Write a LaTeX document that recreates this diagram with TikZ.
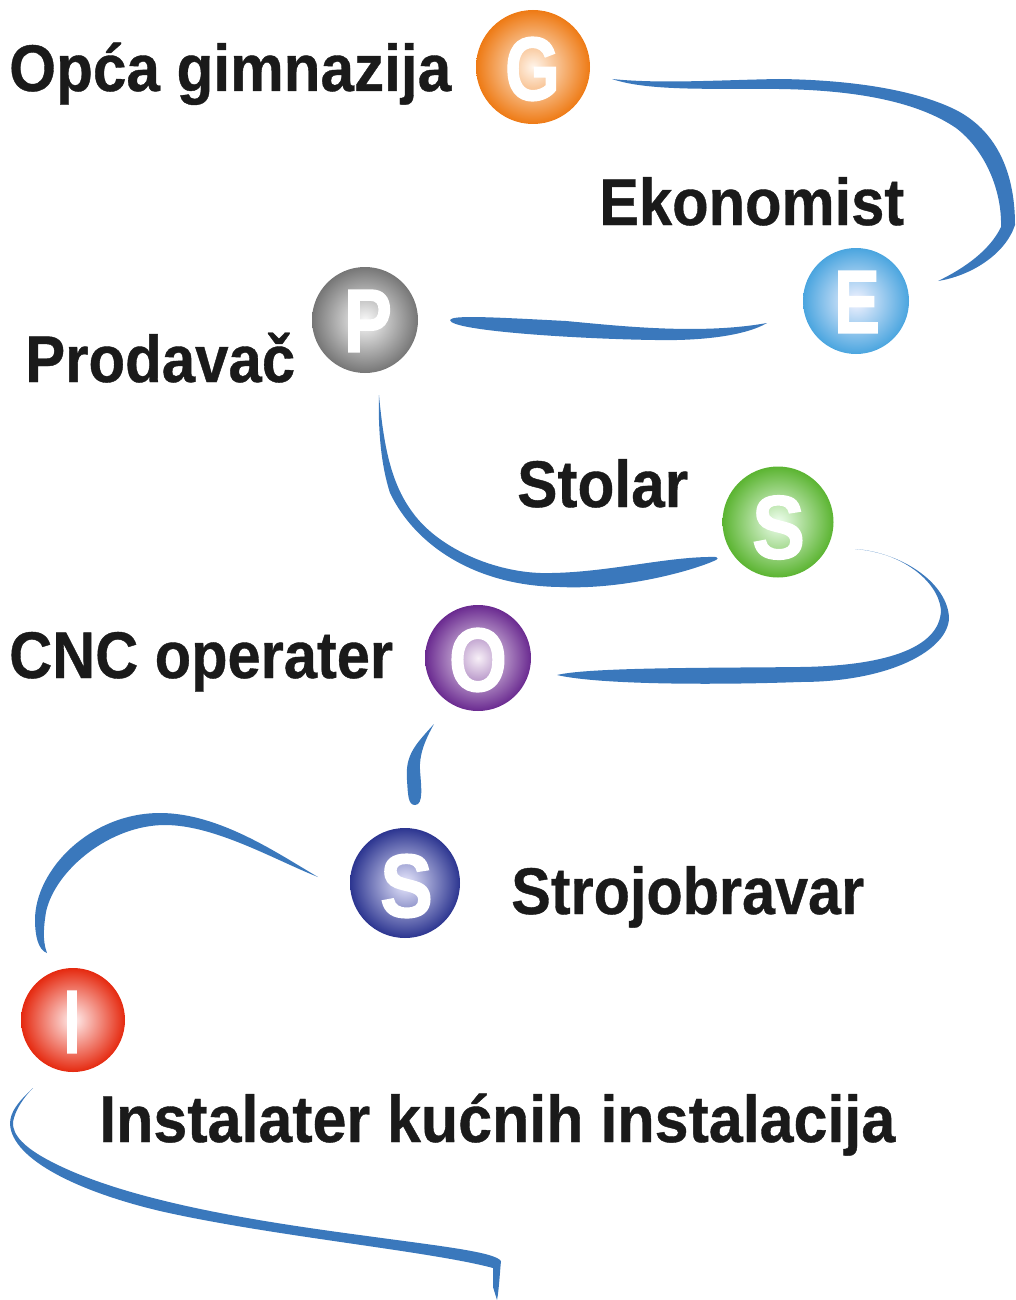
\documentclass[tikz,border=0pt]{standalone}
\usepackage{graphicx}
\usepackage{fontspec}
\setmainfont{Liberation Sans}
\newfontfamily\capfont{Liberation Sans}[BoldFeatures={FakeBold=0.6}]
\newfontfamily\ltrfont{Liberation Sans}[BoldFeatures={FakeBold=1.6}]
\definecolor{swoosh}{HTML}{3A78BC}
\definecolor{ink}{HTML}{1A1A1A}
\newcommand{\lbl}[2]{\resizebox{#1pt}{\height}{#2}}
\newcommand{\ltr}[2]{\resizebox{#1pt}{\height}{#2}}
\tikzset{
  swooshfill/.style={fill=swoosh,draw=none},
  ball/.style={circle,inner sep=0pt,minimum size=#1pt,shading=radial},
  letter/.style={inner sep=0pt,text=white,font=\fontsize{90}{90}\ltrfont\bfseries},
  caption/.style={anchor=base west,inner sep=0pt,text=ink,font=\fontsize{66}{66}\capfont\bfseries},
}
\begin{document}
\begin{tikzpicture}[x=1pt,y=-1pt]
\useasboundingbox (0,0) rectangle (1015,1300);
% balls
\node[ball=114,inner color=orange!8!white,outer color={rgb,255:red,238;green,122;blue,20}] (g) at (533,67) {};
\node[ball=106,inner color=blue!5!white,outer color={rgb,255:red,74;green,165;blue,223}] (e) at (856,301) {};
\node[ball=106,inner color=gray!5!white,outer color={rgb,255:red,118;green,118;blue,118}] (p) at (365,320) {};
\node[ball=111,inner color=green!6!white,outer color={rgb,255:red,91;green,180;blue,49}] (s1) at (778,522) {};
\node[ball=106,inner color=violet!6!white,outer color={rgb,255:red,106;green,42;blue,144}] (o) at (478,658) {};
\node[ball=110,inner color=blue!8!white,outer color={rgb,255:red,44;green,53;blue,144}] (s2) at (405,883) {};
\node[ball=104,inner color=red!6!white,outer color={rgb,255:red,229;green,41;blue,15}] (i) at (73,1020) {};
% letters
\node[letter] (lg) at (532.5,69) {\ltr{55}{G}};
\node[letter] (le) at (857,302) {\ltr{46}{E}};
\node[letter] (lp) at (368,321) {\ltr{48}{P}};
\node[letter] (ls1) at (778.5,527.5) {\ltr{53}{S}};
\node[letter] (lo) at (478,660) {\ltr{58}{O}};
\node[letter] (ls2) at (406.5,886) {\ltr{53}{S}};
\node[letter] (li) at (72,1022) {\ltr{17}{I}};
% captions
\node[caption] (tg) at (9,91) {\lbl{442}{Opća gimnazija}};
\node[caption] (te) at (599,225) {\lbl{305}{Ekonomist}};
\node[caption] (tp) at (25,382) {\lbl{270}{Prodavač}};
\node[caption] (ts1) at (517,507) {\lbl{171}{Stolar}};
\node[caption] (to) at (9,678) {\lbl{384}{CNC operater}};
\node[caption] (ts2) at (511,914) {\lbl{353}{Strojobravar}};
\node[caption] (ti) at (99,1142) {\lbl{796}{Instalater kućnih instalacija}};
% swooshes
\fill[swooshfill] (612,79) .. controls (660,84) and (720,80) .. (779,79) .. controls (860,80) and (920,92) .. (956,110) .. controls (995,130) and (1015,170) .. (1015,225) .. controls (1005,255) and (970,276) .. (938,281) .. controls (965,268) and (990,250) .. (1001,227) .. controls (1002,190) and (985,150) .. (956,128) .. controls (915,100) and (850,90) .. (779,89) .. controls (720,88) and (650,92) .. cycle;
\fill[swooshfill] (450,320) .. controls (452,315) and (490,317) .. (566,321) .. controls (620,326) and (700,335) .. (767,323) .. controls (745,336) and (700,341) .. (655,340) .. controls (580,339) and (450,331) .. cycle;
\fill[swooshfill] (379,395) .. controls (384,450) and (392,485) .. (413,513) .. controls (440,550) and (500,575) .. (552,573) .. controls (610,572) and (670,556) .. (716,557) .. controls (718,558) and (718,559) .. (716,560) .. controls (690,572) and (620,590) .. (560,587) .. controls (475,586) and (415,545) .. (390,493) .. controls (381,465) and (378,430) .. cycle;
\fill[swooshfill] (855,549) .. controls (905,553) and (948,585) .. (949,618) .. controls (948,650) and (890,682) .. (800,682) .. controls (720,685) and (600,685) .. (557,675) .. controls (590,667) and (720,668) .. (800,667) .. controls (880,666) and (940,650) .. (941,610) .. controls (938,580) and (900,552) .. cycle;
\fill[swooshfill] (434,724) .. controls (415,745) and (405,755) .. (407,780) .. controls (408,795) and (408,805) .. (415,805) .. controls (424,805) and (421,785) .. (420,770) .. controls (419,755) and (425,740) .. cycle;
\fill[swooshfill] (318,877) .. controls (280,855) and (220,813) .. (160,813) .. controls (90,813) and (35,870) .. (35,920) .. controls (35,935) and (38,950) .. (47,953) .. controls (42,940) and (44,925) .. (46,912) .. controls (55,870) and (110,825) .. (165,825) .. controls (215,825) and (275,860) .. cycle;
\fill[swooshfill] (33,1088) .. controls (18,1102) and (10,1112) .. (10,1124) .. controls (12,1160) and (80,1192) .. (160,1211) .. controls (270,1236) and (430,1251) .. (493,1268) -- (493,1287) -- (497,1300) .. controls (499,1290) and (500,1270) .. (501,1261) .. controls (495,1252) and (440,1246) .. (367,1236) .. controls (270,1223) and (130,1203) .. (50,1161) .. controls (25,1148) and (12,1135) .. (13,1122) .. controls (15,1110) and (24,1097) .. cycle;
\end{tikzpicture}
\end{document}
